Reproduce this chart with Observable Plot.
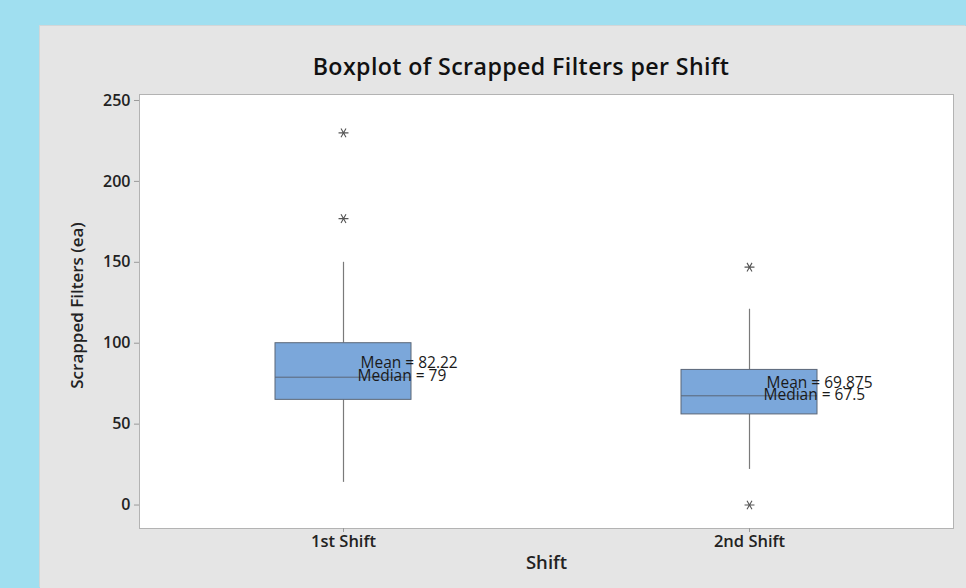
<!DOCTYPE html>
<html>
<head>
<meta charset="utf-8">
<script src="https://cdn.jsdelivr.net/npm/d3@7"></script>
<script src="https://cdn.jsdelivr.net/npm/@observablehq/plot@0.6"></script>
<style>
  html, body { margin: 0; padding: 0; }
  body {
    width: 966px; height: 588px; overflow: hidden; position: relative;
    background: #a0dff0;
    font-family: "Open Sans", sans-serif;
  }
  #panel {
    position: absolute; left: 40px; top: 26px; width: 926px; height: 562px;
    background: #e5e5e5;
    box-shadow: -1px -1px 0 #d2d6d8;
  }
  #title {
    position: absolute; left: 0; top: 24px; width: 962px;
    text-align: center; font: 600 23.2px "Open Sans", sans-serif; letter-spacing: 0.4px; color: #111;
  }
  #chart { position: absolute; left: 0; top: 50px; }
  #chart g[aria-label="y-axis tick"], #chart g[aria-label="x-axis tick"] { stroke: #9a9a9a; }
</style>
</head>
<body>
<div id="panel">
  <div id="title">Boxplot of Scrapped Filters per Shift</div>
  <div id="chart"></div>
</div>
<script>
// Summary statistics per shift
const shifts = ["1st Shift", "2nd Shift"];
const q1 = [65, 56];
const medians = [79, 67.5];
const q3 = [100, 83.5];
const whiskerLow = [14, 22];
const whiskerHigh = [150, 121];
const means = [82.22, 69.875];

// Outlying observations
const outlierShift = ["1st Shift", "1st Shift", "2nd Shift", "2nd Shift"];
const outlierValue = [230, 177, 147, 0];

// Axis ticks
const yTicks = [0, 50, 100, 150, 200, 250];

const chart = Plot.plot({
  width: 926,
  height: 512,
  marginLeft: 99,
  marginRight: 13,
  marginTop: 18,
  marginBottom: 60,
  style: { fontFamily: "Open Sans, sans-serif", background: "transparent", overflow: "visible" },
  x: { domain: shifts, paddingInner: 0.665, paddingOuter: 0.3327, label: null },
  y: { domain: [-14.5, 253.7], label: null },
  marks: [
    Plot.frame({ fill: "white", stroke: "#b3b3b3" }),
    Plot.axisY({ ticks: yTicks, tickSize: 5, tickPadding: 4, fontSize: 16, fontWeight: 600, color: "#222", label: null }),
    Plot.axisX({ tickSize: 4, tickPadding: 3, fontSize: 16.5, fontWeight: 600, color: "#222", label: null }),
    // whiskers
    Plot.ruleX(shifts, { x: shifts, y1: whiskerLow, y2: q1, stroke: "#7a7a7a", strokeWidth: 1.2 }),
    Plot.ruleX(shifts, { x: shifts, y1: q3, y2: whiskerHigh, stroke: "#7a7a7a", strokeWidth: 1.2 }),
    // interquartile boxes
    Plot.barY(shifts, { x: shifts, y1: q1, y2: q3, fill: "#7ba7da", stroke: "#5b6677", strokeWidth: 1 }),
    // median lines
    Plot.tickY(shifts, { x: shifts, y: medians, stroke: "#5b6677", strokeWidth: 1 }),
    // outliers
    Plot.dot(outlierValue, { x: outlierShift, y: outlierValue, symbol: "asterisk", r: 4.7, rotate: 90, stroke: "#555", strokeWidth: 1.1 }),
    // mean and median labels
    Plot.text(shifts, { x: shifts, y: means, text: (d, i) => `Mean = ${means[i]}`, textAnchor: "start", dx: 17, dy: -9, fontSize: 15.5, fill: "#1a1a1a" }),
    Plot.text(shifts, { x: shifts, y: medians, text: (d, i) => `Median = ${medians[i]}`, textAnchor: "start", dx: 14, dy: -1, fontSize: 15.5, fill: "#1a1a1a" }),
    // axis titles
    Plot.text(["Scrapped Filters (ea)"], { frameAnchor: "left", text: d => d, textAnchor: "middle", dx: -62, dy: -6, rotate: -90, fontSize: 17, fontWeight: 600, fill: "#222" }),
    Plot.text(["Shift"], { frameAnchor: "bottom", text: d => d, dy: 40, fontSize: 18.5, fontWeight: 600, fill: "#222" })
  ]
});
document.getElementById("chart").appendChild(chart);
</script>
</body>
</html>
